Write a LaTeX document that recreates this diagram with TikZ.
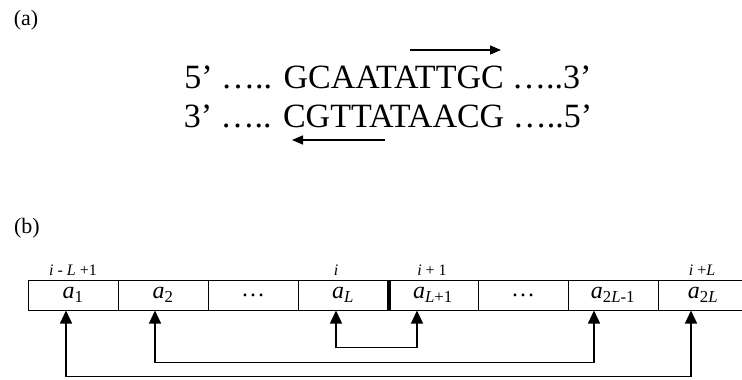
\documentclass[tikz,border=0pt]{standalone}
\usepackage{fontspec}
\setmainfont{Liberation Serif}
\usetikzlibrary{arrows.meta}
\begin{document}
\begin{tikzpicture}[x=1pt,y=-1pt,
  panel/.style={font=\fontsize{22}{24}\selectfont, inner sep=0pt},
  strand/.style={font=\fontsize{34}{36}\selectfont, inner sep=0pt, anchor=base},
  dir/.style={line width=1.3pt, -{Triangle[length=11pt,width=9pt]}},
  cell/.style={draw, line width=1pt, minimum width=90pt, minimum height=30pt,
    inner sep=0pt, font=\fontsize{24}{26}\selectfont},
  poslabel/.style={font=\fontsize{16}{18}\selectfont\itshape, inner sep=0pt},
  pair/.style={line width=1.2pt, {Triangle[length=13pt,width=12pt]}-{Triangle[length=13pt,width=12pt]}}]
\useasboundingbox (0,0) rectangle (742,380);

% panel (a): the palindromic site and its two reading directions
\node[panel] (pa) at (26,20) {(a)};
\node[strand] (s1) at (388,88) {5’ ….. GCAATATTGC …..3’};
\node[strand] (s2) at (388,127) {3’ ….. CGTTATAACG …..5’};
\coordinate (f1) at (410,50);
\coordinate (f2) at (501,50);
\coordinate (r1) at (385,140);
\coordinate (r2) at (292,140);
\draw[dir] (f1) -- (f2);
\draw[dir] (r1) -- (r2);

% panel (b): the window of 2L positions
\node[panel] (pb) at (27,228) {(b)};
\begin{scope}[every node/.style={cell}]
  \node (c1) at (73,295)  {\itshape a\textsubscript{\upshape 1}};
  \node (c2) at (163,295) {\itshape a\textsubscript{\upshape 2}};
  \node (c3) at (253,295) {…};
  \node (c4) at (343,295) {\itshape a\textsubscript{L}};
  \node (c5) at (433,295) {\itshape a\textsubscript{L{\upshape +1}}};
  \node (c6) at (523,295) {…};
  \node (c7) at (613,295) {\itshape a\textsubscript{{\upshape 2}L{\upshape -1}}};
  \node (c8) at (703,295) {\itshape a\textsubscript{{\upshape 2}L}};
\end{scope}
% the centre of the window
\draw[line width=4pt] (c4.north east) -- (c4.south east);

\node[poslabel] (p1) at (73,270)  {i {\upshape -} L {\upshape +1}};
\node[poslabel] (p4) at (336,270) {i};
\node[poslabel] (p5) at (432,270) {i {\upshape + 1}};
\node[poslabel] (p8) at (702,270) {i {\upshape +}L};

% complementary positions
\draw[pair] ([xshift=-7pt]c4.south) -- ++(0,37) -| ([xshift=-16pt]c5.south);
\draw[pair] ([xshift=-8pt]c2.south) -- ++(0,52) -| ([xshift=-19pt]c7.south);
\draw[pair] ([xshift=-7pt]c1.south) -- ++(0,66) -| ([xshift=-12pt]c8.south);
\end{tikzpicture}
\end{document}
